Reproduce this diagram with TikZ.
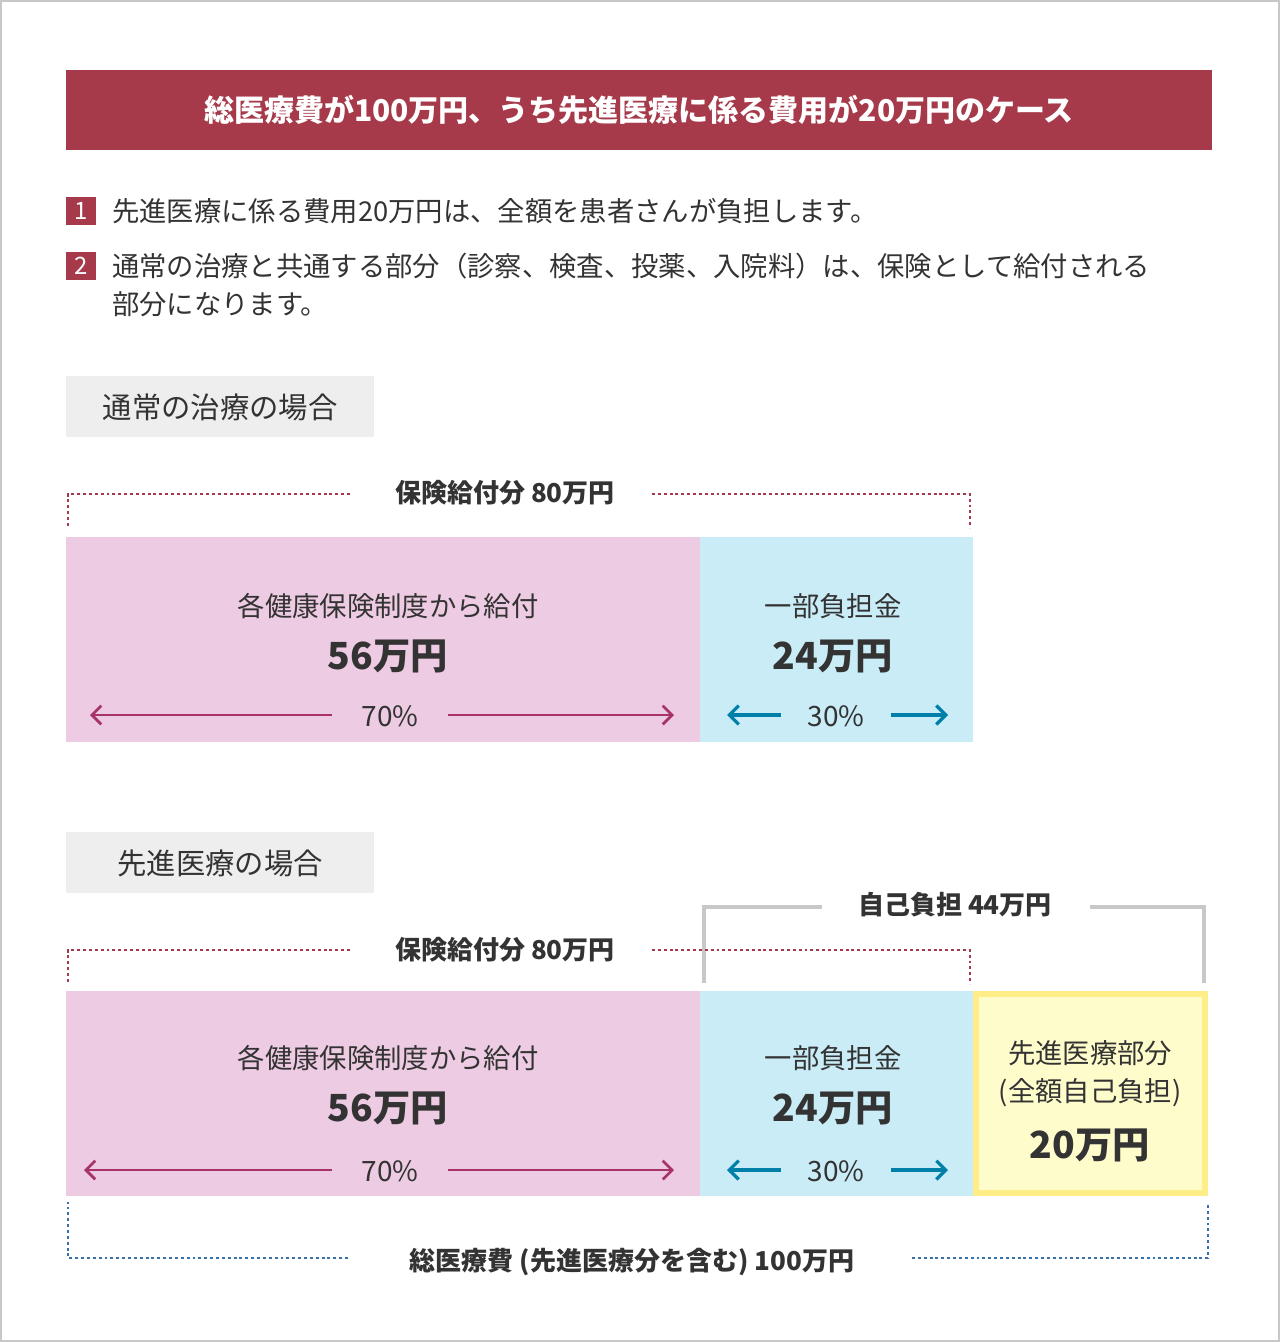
\documentclass[tikz,border=0pt]{standalone}
\usepackage{fontspec}
\setmainfont{Noto Sans CJK JP}
\usetikzlibrary{arrows.meta}
\definecolor{wine}{HTML}{A63A4B}
\definecolor{txt}{HTML}{333333}
\definecolor{pinkbg}{HTML}{EDCBE2}
\definecolor{cyanbg}{HTML}{C9ECF7}
\definecolor{yelbg}{HTML}{FFFCCC}
\definecolor{yelbd}{HTML}{FFEE88}
\definecolor{pinkar}{HTML}{A8336A}
\definecolor{bluear}{HTML}{0080A8}
\definecolor{bluedot}{HTML}{3A70A8}
\definecolor{graybr}{HTML}{C8C8C8}
\definecolor{secbg}{HTML}{EEEEEE}
\tikzset{
 t/.style={text=txt,inner sep=0pt},
 body/.style={t,anchor=west,font=\fontsize{20.5}{24}\selectfont},
 sec/.style={t,font=\fontsize{22}{26}\selectfont},
 lab/.style={t,font=\bfseries\fontsize{19.5}{24}\selectfont},
 mid/.style={t,font=\fontsize{20.5}{24}\selectfont},
 big/.style={t,font=\bfseries\fontsize{28}{32}\selectfont},
 pct/.style={t,font=\fontsize{21}{24}\selectfont},
 reddot/.style={wine,line width=2.2pt,dash pattern=on 2.2pt off 2.2pt},
 bluedt/.style={bluedot,line width=2.2pt,dash pattern=on 2.2pt off 2.2pt},
 gbr/.style={graybr,line width=3.5pt},
 parr/.style={pinkar,line width=2pt,-{Straight Barb[length=7pt,width=14pt]}},
 barr/.style={bluear,line width=2.5pt,-{Straight Barb[length=7pt,width=14pt]}},
}
\begin{document}
\begin{tikzpicture}[x=0.75pt,y=-0.75pt]
\useasboundingbox (0,0) rectangle (1280,1342);
\draw[graybr,line width=1.5pt] (1,1) rectangle (1279,1341);
% title
\fill[wine] (66,70) rectangle (1212,150);
\node[inner sep=0pt,text=white,font=\bfseries\fontsize{22.5}{26}\selectfont] (title) at (639,110) {総医療費が100万円、うち先進医療に係る費用が20万円のケース};
% bullets
\fill[wine] (66,197) rectangle (96,225);
\node[inner sep=0pt,text=white,font=\fontsize{18}{20}\selectfont] (n1) at (81,211) {1};
\node[body] (b1) at (112,211) {先進医療に係る費用20万円は、全額を患者さんが負担します。};
\fill[wine] (66,252) rectangle (96,280);
\node[inner sep=0pt,text=white,font=\fontsize{18}{20}\selectfont] (n2) at (81,266) {2};
\node[body] (b2) at (112,266) {通常の治療と共通する部分（診察、検査、投薬、入院料）は、保険として給付される};
\node[body] (b3) at (112,304) {部分になります。};
% section 1
\fill[secbg] (66,376) rectangle (374,437);
\node[sec] (s1) at (220,407) {通常の治療の場合};
\node[lab] (h1) at (505,493) {保険給付分 80万円};
\draw[reddot] (350,494) -- (68,494) -- (68,528);
\draw[reddot] (652,494) -- (970,494) -- (970,528);
\fill[pinkbg] (66,537) rectangle (700,742);
\fill[cyanbg] (700,537) rectangle (973,742);
\node[mid] (p1a) at (388,606) {各健康保険制度から給付};
\node[big] (p1b) at (388,656) {56万円};
\node[pct] (p1c) at (390,716) {70\%};
\coordinate (p1l) at (90,715); \coordinate (p1r) at (674,715);
\draw[parr] (332,715) -- (p1l);
\draw[parr] (448,715) -- (p1r);
\node[mid] (c1a) at (833,606) {一部負担金};
\node[big] (c1b) at (833,656) {24万円};
\node[pct] (c1c) at (836,716) {30\%};
\coordinate (c1l) at (727,715); \coordinate (c1r) at (948,715);
\draw[barr] (781,715) -- (c1l);
\draw[barr] (891,715) -- (c1r);
% section 2
\fill[secbg] (66,832) rectangle (374,893);
\node[sec] (s2) at (220,863) {先進医療の場合};
\node[lab] (h2) at (955,905) {自己負担 44万円};
\draw[gbr] (822,907) -- (704,907) -- (704,983);
\draw[gbr] (1090,907) -- (1204,907) -- (1204,983);
\node[lab] (h3) at (505,950) {保険給付分 80万円};
\draw[reddot] (350,950) -- (68,950) -- (68,984);
\draw[reddot] (652,950) -- (970,950) -- (970,984);
\fill[pinkbg] (66,991) rectangle (700,1196);
\fill[cyanbg] (700,991) rectangle (973,1196);
\fill[yelbg] (973,991) rectangle (1208,1196);
\draw[yelbd,line width=4pt] (976,994) rectangle (1205,1193);
\node[mid] (p2a) at (388,1058) {各健康保険制度から給付};
\node[big] (p2b) at (388,1108) {56万円};
\node[pct] (p2c) at (390,1171) {70\%};
\coordinate (p2l) at (84,1170); \coordinate (p2r) at (674,1170);
\draw[parr] (332,1170) -- (p2l);
\draw[parr] (448,1170) -- (p2r);
\node[mid] (c2a) at (833,1058) {一部負担金};
\node[big] (c2b) at (833,1108) {24万円};
\node[pct] (c2c) at (836,1171) {30\%};
\coordinate (c2l) at (727,1170); \coordinate (c2r) at (948,1170);
\draw[barr] (781,1170) -- (c2l);
\draw[barr] (891,1170) -- (c2r);
\node[mid] (y1) at (1090,1053) {先進医療部分};
\node[mid] (y2) at (1090,1093) {(全額自己負担)};
\node[big] (y3) at (1090,1145) {20万円};
\node[lab] (h4) at (632,1262) {総医療費 (先進医療分を含む) 100万円};
\draw[bluedt] (348,1258) -- (68,1258) -- (68,1202);
\draw[bluedt] (912,1258) -- (1208,1258) -- (1208,1204);
\end{tikzpicture}
\end{document}
